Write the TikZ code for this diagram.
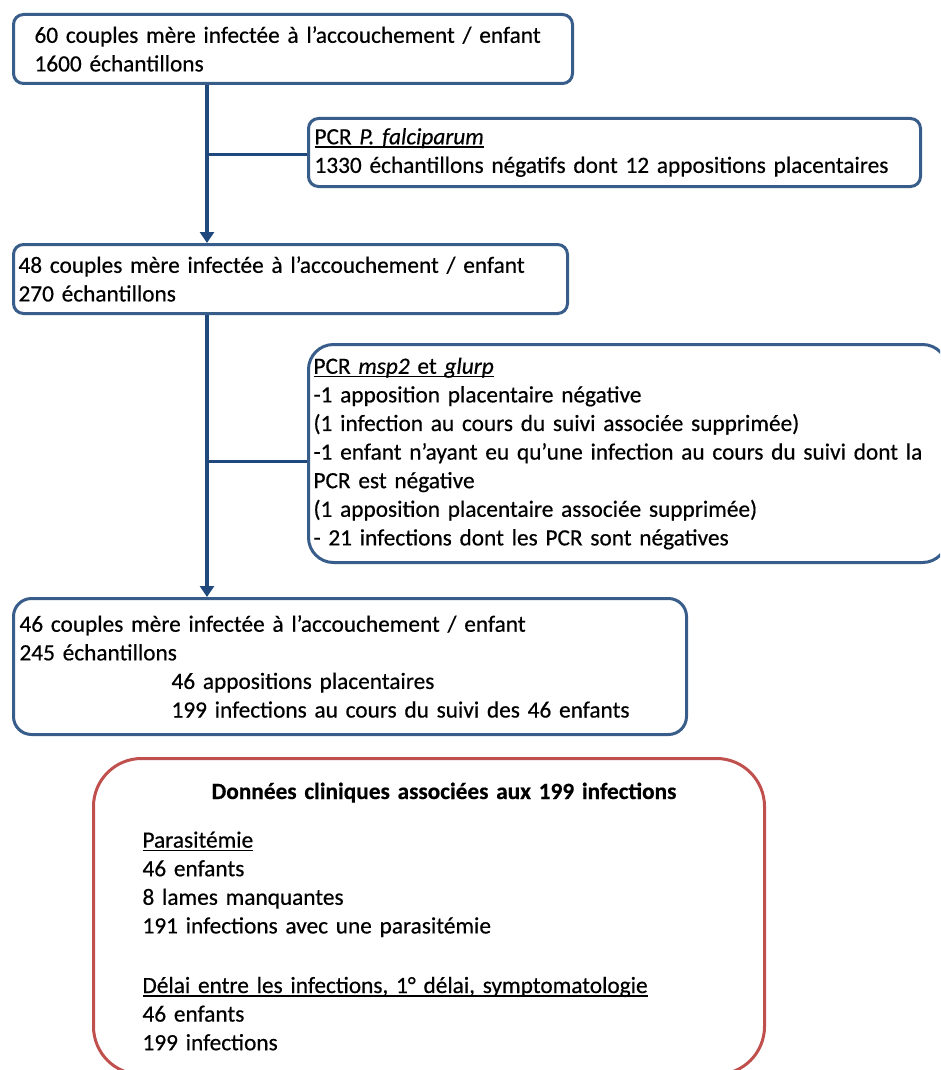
\documentclass[tikz,border=0pt]{standalone}
\usepackage{fontspec}
\setmainfont[FakeBold=0.5]{Carlito}
\usepackage{tikz}
\usetikzlibrary{arrows.meta}
\definecolor{boxblue}{HTML}{385D8A}
\definecolor{linkblue}{HTML}{1F497D}
\definecolor{boxred}{HTML}{C0504D}
\newcommand{\souligne}[1]{\leavevmode\setbox0\hbox{#1}\rlap{\rule[-3.5pt]{\wd0}{1.4pt}}\box0}

\begin{document}
\begin{tikzpicture}[x=1pt,y=-1pt,
  font=\fontsize{23.3}{28.6}\selectfont,
  flowbox/.style={draw=boxblue, line width=3pt, rounded corners=10pt, anchor=north west,
    align=left, inner xsep=6pt, inner ysep=0pt},
  flow/.style={draw=linkblue, line width=3.8pt, -{Triangle[width=14pt,length=11pt]}},
  branch/.style={draw=linkblue, line width=3.8pt}]
  \clip (0,0) rectangle (940,1070);
  % main column
  \node[flowbox, text width=547pt, minimum height=69pt] (couples60) at (12,13)
    {\hspace*{15pt}60 couples mère infectée à l’accouchement / enfant\\
     \hspace*{15pt}1600 échantillons};
  \node[flowbox, inner xsep=5pt, text width=544pt, minimum height=69pt] (couples48) at (12,243)
    {48 couples mère infectée à l’accouchement / enfant\\270 échantillons};
  \node[flowbox, rounded corners=18pt, text width=661pt, minimum height=136pt] (couples46) at (12,597)
    {46 couples mère infectée à l’accouchement / enfant\\
     245 échantillons\\
     \hspace*{152pt}46 appositions placentaires\\
     \hspace*{152pt}199 infections au cours du suivi des 46 enfants};
  % PCR filters
  \node[flowbox, text width=600pt, minimum height=68pt] (pcrA) at (307,117)
    {\souligne{PCR \textit{P. falciparum}}\\
     1330 échantillons négatifs dont 12 appositions placentaires};
  \node[flowbox, rounded corners=25pt, inner xsep=5pt, text width=629pt, minimum height=218pt] (pcrB) at (307,343)
    {\souligne{PCR \textit{msp2} et \textit{glurp}}\\
     -1 apposition placentaire négative\\
     (1 infection au cours du suivi associée supprimée)\\
     -1 enfant n’ayant eu qu’une infection au cours du suivi dont la\\
     PCR est négative\\
     (1 apposition placentaire associée supprimée)\\
     - 21 infections dont les PCR sont négatives};
  % clinical data
  \node[flowbox, draw=boxred, rounded corners=48pt, inner xsep=49pt, text width=573pt, minimum height=316pt] (clinique) at (92,757)
    {\makebox[573pt][c]{\hspace*{30pt}\bfseries Données cliniques associées aux 199 infections}\\[20pt]
     \souligne{Parasitémie}\\
     46 enfants\\
     8 lames manquantes\\
     191 infections avec une parasitémie\\[31pt]
     \souligne{Délai entre les infections, 1° délai, symptomatologie}\\
     46 enfants\\
     199 infections};
  % connectors
  \path (pcrA.west) ++(-100,2) coordinate (jA);
  \path (pcrB.west) ++(-100,8) coordinate (jB);
  \draw[flow] (couples60.south -| jA) -- (couples48.north -| jA);
  \draw[branch] (jA) -- (jA -| pcrA.west);
  \draw[flow] (couples48.south -| jB) -- (couples46.north -| jB);
  \draw[branch] (jB) -- (jB -| pcrB.west);
\end{tikzpicture}
\end{document}
